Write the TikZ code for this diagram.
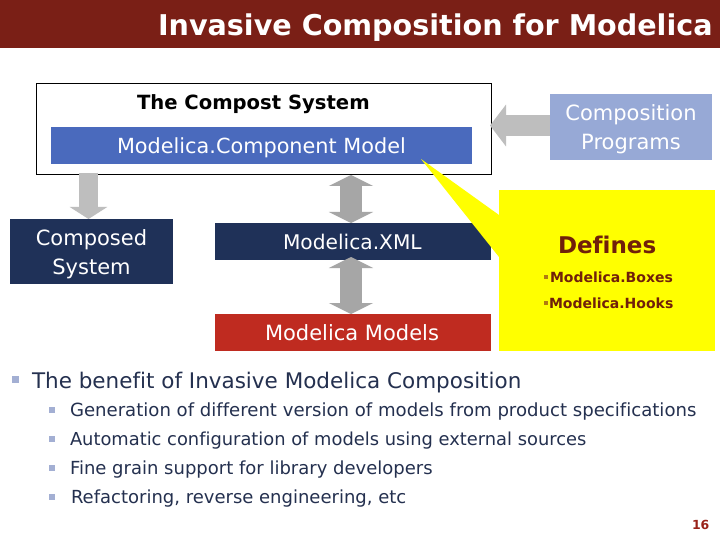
\documentclass[tikz,border=0pt]{standalone}
\usepackage{fontspec}
\setmainfont[Ligatures=NoCommon]{DejaVu Sans}
\usetikzlibrary{arrows.meta}
\definecolor{titlered}{HTML}{7A1F16}
\definecolor{bluebox}{HTML}{4A6ABD}
\definecolor{navy}{HTML}{1F3158}
\definecolor{redbox}{HTML}{BF2B20}
\definecolor{lightblue}{HTML}{97A9D6}
\definecolor{lightgray2}{HTML}{BEBEBE}
\definecolor{midgray}{HTML}{A6A6A6}
\definecolor{brownred}{HTML}{70200A}
\definecolor{bodytext}{HTML}{24304F}
\definecolor{bulletc}{HTML}{A3AFD3}
\definecolor{yellowbul}{HTML}{B07A10}
\definecolor{calloutyellow}{HTML}{FFFF00}
\tikzset{
  x=1pt,y=-1pt,
  fillbox/.style={inner sep=0pt,outer sep=0pt,anchor=north west,text=white,align=center},
  lbl/.style={inner sep=0pt,outer sep=0pt,anchor=base west},
  bodytxt/.style={lbl,text=bodytext,font=\fontsize{18}{18}\selectfont},
  subbul/.style={fill=bulletc,minimum size=6pt,inner sep=0pt,outer sep=0pt},
  graydown/.style={draw=lightgray2,line width=19pt,-{Triangle[length=12pt,width=37pt,fill=lightgray2]}},
  grayleft/.style={draw=lightgray2,line width=21pt,-{Triangle[length=16pt,width=41pt,fill=lightgray2]}},
  graydouble/.style={draw=midgray,line width=22pt,{Triangle[length=11pt,width=44pt,fill=midgray]}-{Triangle[length=11pt,width=44pt,fill=midgray]}},
}
\newcommand{\boxtxt}[1]{\fontsize{#1}{#1}\selectfont}
\begin{document}
\begin{tikzpicture}
\useasboundingbox (0,0) rectangle (720,540);
\fill[white] (0,0) rectangle (720,540);
% title
\node[fillbox,fill=titlered,minimum width=720pt,minimum height=48pt] (bar) at (0,0) {};
\node[lbl,text=white,font=\bfseries\boxtxt{28.6}] (title) at (158,36) {Invasive Composition for Modelica};
% compost
\node[fillbox,draw=black,line width=0.8pt,minimum width=455pt,minimum height=91pt] (compost) at (36,83) {};
\node[lbl,font=\bfseries\boxtxt{19.6}] (composttxt) at (137,110) {The Compost System};
\node[fillbox,fill=bluebox,minimum width=421pt,minimum height=37pt] (component) at (51,127) {};
\node[lbl,text=white,font=\boxtxt{20.8}] (componenttxt) at (117,154) {Modelica.Component Model};
% composed
\node[fillbox,fill=navy,minimum width=163pt,minimum height=65pt] (composed) at (10,219) {};
\node[text=white,align=center,font=\boxtxt{21},inner sep=0pt] (composedtxt) at (91.5,254) {Composed\\[8pt]System};
% xml
\node[fillbox,fill=navy,minimum width=276pt,minimum height=37pt] (xml) at (215,223) {};
\node[lbl,text=white,font=\boxtxt{20.2}] (xmltxt) at (283,249) {Modelica.XML};
% models
\node[fillbox,fill=redbox,minimum width=276pt,minimum height=37pt] (models) at (215,314) {};
\node[lbl,text=white,font=\boxtxt{21}] (modelstxt) at (265,340) {Modelica Models};
% programs
\node[fillbox,fill=lightblue,minimum width=162pt,minimum height=66pt] (programs) at (550,94) {};
\node[text=white,align=center,font=\boxtxt{21},inner sep=0pt] (programstxt) at (631,129) {Composition\\[8pt]Programs};
% arrows
\coordinate (a1s) at (88.5,173); \coordinate (a1e) at (88.5,219);
\draw[graydown] (a1s) -- (a1e);
\coordinate (a2s) at (550,125.5); \coordinate (a2e) at (490,125.5);
\draw[grayleft] (a2s) -- (a2e);
\coordinate (a3s) at (351,175); \coordinate (a3e) at (351,223);
\draw[graydouble] (a3s) -- (a3e);
\coordinate (a4s) at (351,257); \coordinate (a4e) at (351,314);
\draw[graydouble] (a4s) -- (a4e);
% callout
\fill[calloutyellow] (421,159) -- (499,215) -- (499,257) -- cycle;
\node[fillbox,fill=calloutyellow,minimum width=216pt,minimum height=161pt] (defines) at (499,190) {};
\node[lbl,text=brownred,font=\bfseries\boxtxt{23}] (definestxt) at (558,254) {Defines};
\node[subbul,fill=yellowbul,minimum size=4pt] (b1) at (546,276.5) {};
\node[lbl,text=brownred,font=\bfseries\boxtxt{14}] (boxes) at (550,282) {Modelica.Boxes};
\node[subbul,fill=yellowbul,minimum size=4pt] (b2) at (546,302.5) {};
\node[lbl,text=brownred,font=\bfseries\boxtxt{14}] (hooks) at (549,308) {Modelica.Hooks};
% bullets
\node[subbul,minimum size=7pt] (b0) at (15.5,379.5) {};
\node[lbl,text=bodytext,font=\boxtxt{21.5}] (main) at (32,388) {The benefit of Invasive Modelica Composition};
\node[subbul] (s1) at (52,410) {};
\node[bodytxt,font=\boxtxt{18.1}] (t1) at (70,416) {Generation of different version of models from product specifications};
\node[subbul] (s2) at (52,439) {};
\node[bodytxt,font=\boxtxt{17.85}] (t2) at (70,445) {Automatic configuration of models using external sources};
\node[subbul] (s3) at (52,468) {};
\node[bodytxt] (t3) at (70,474) {Fine grain support for library developers};
\node[subbul] (s4) at (52,497) {};
\node[bodytxt] (t4) at (71,503) {Refactoring, reverse engineering, etc};
\node[lbl,text=redbox!80!black,font=\bfseries\boxtxt{12.5}] (page) at (692,529) {16};
\end{tikzpicture}
\end{document}
